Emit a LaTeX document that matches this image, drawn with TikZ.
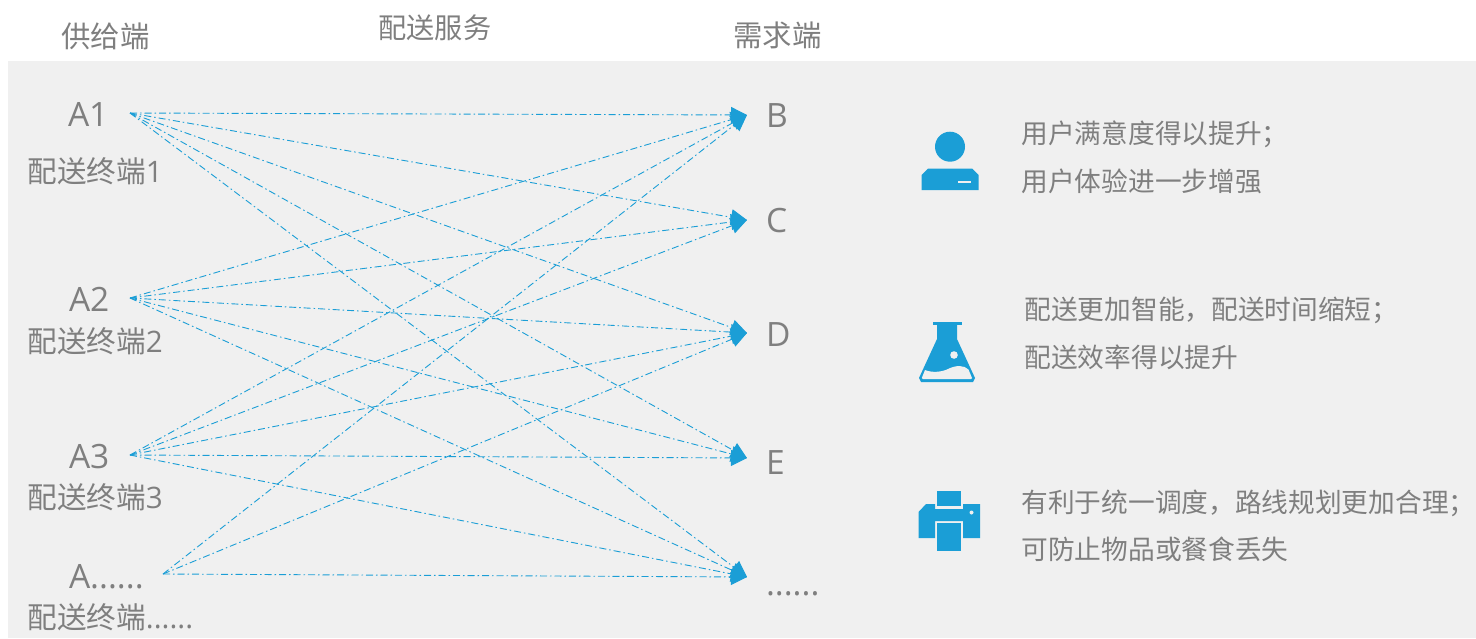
\documentclass[tikz,border=0pt]{standalone}
\usepackage{fontspec}
\setmainfont{Open Sans}
\newfontfamily\cjk{Noto Sans CJK SC}
\usetikzlibrary{arrows.meta}
\definecolor{bgc}{HTML}{F0F0F0}
\definecolor{txt}{HTML}{7F7F7F}
\definecolor{blu}{HTML}{1B9ED6}
\tikzset{
  base/.style={inner sep=0pt,outer sep=0pt,text=txt,anchor=base west},
  head/.style={base,font=\cjk\fontsize{29.4}{29.4}\selectfont},
  headb/.style={base,font=\cjk\fontsize{28.2}{28.2}\selectfont},
  sub/.style={base,font=\fontsize{29.6}{29.6}\selectfont},
  big/.style={base,font=\fontsize{33.5}{33.5}\selectfont},
  desc/.style={base,font=\cjk\fontsize{26.7}{26.7}\selectfont},
  link/.style={blu,line width=0.9pt,dash pattern=on 7pt off 3pt on 1.5pt off 3pt,
    -{Triangle[length=16pt,width=16pt]}},
  icon/.style={fill=blu,draw=none},
}
\begin{document}
\begin{tikzpicture}[x=1pt,y=-1pt]
\useasboundingbox (0,0) rectangle (1476,638);
\fill[bgc] (8,61) rectangle (1476,638);
\node[head] (h1) at (61.5,47) {供给端};
\node[headb] (h2) at (378.5,38) {配送服务};
\node[head] (h3) at (733.5,46) {需求端};
\node[big] (A1) at (68,126) {A1};
\node[big] (A2) at (69,311) {A2};
\node[big] (A3) at (69,468) {A3};
\node[big] (A4) at (69,588) {A......};
\node[sub] (s1) at (27.5,182) {{\cjk 配送终端}1};
\node[sub] (s2) at (27.5,352) {{\cjk 配送终端}2};
\node[sub] (s3) at (27.5,508) {{\cjk 配送终端}3};
\node[sub] (s4) at (27.5,628) {{\cjk 配送终端}......};
\node[big] (B) at (766,127) {B};
\node[big] (C) at (766,232) {C};
\node[big] (D) at (766,346) {D};
\node[big] (E) at (766,474) {E};
\node[big] (F) at (766,595) {......};
\coordinate (a1) at (130,113);
\coordinate (a2) at (130,298);
\coordinate (a3) at (130,455);
\coordinate (a4) at (163,574);
\coordinate (b) at (747,115);
\coordinate (c) at (747,220);
\coordinate (d) at (747,333);
\coordinate (e) at (747,458);
\coordinate (f) at (747,577);
\foreach \s/\t in {a1/b,a1/c,a1/d,a1/e,a1/f,a2/b,a2/c,a2/d,a2/e,a2/f,a3/b,a3/c,a3/d,a3/e,a3/f,a4/b,a4/d,a4/f}
  \draw[link] (\s) -- (\t);
% user icon
\fill[icon] (950,146.7) circle (15);
\fill[icon] (921.5,190) -- (921.5,175) -- (928,168.5) -- (972,168.5) -- (978.5,175) -- (978.5,190) -- cycle;
\fill[bgc] (958,180.5) rectangle (971,182.5);
% flask icon
\fill[icon] (932.5,322) rectangle (961.5,324.5);
\fill[icon] (937,324) -- (957,324) -- (957,339) -- (975,378) -- (973,382) -- (921,382) -- (919,378) -- (937,339) -- cycle;
\fill[bgc] (925,370) .. controls (932,373) and (942,372) .. (948,369) .. controls (956,365) and (964,365) .. (968.5,369.5) -- (972,378) -- (971,379) -- (923,379) -- (921.8,378) -- cycle;
\fill[bgc] (954,355) circle (3.8);
% printer icon
\fill[icon] (937,491) rectangle (961,506);
\fill[icon] (918.5,512) -- (926,504) -- (935,504) -- (935,509) -- (963,509) -- (963,504) -- (980,504) -- (980,538) -- (963,538) -- (963,521) -- (935,521) -- (935,538) -- (918.5,538) -- cycle;
\fill[icon] (937,523) rectangle (961,551);
\fill[bgc] (971.5,512.5) circle (2);
% texts
\node[desc] (t1) at (1021.5,143) {用户满意度得以提升；};
\node[desc] (t2) at (1021.5,191) {用户体验进一步增强};
\node[desc] (t3) at (1024.5,319) {配送更加智能，配送时间缩短；};
\node[desc] (t4) at (1024.5,367) {配送效率得以提升};
\node[desc] (t5) at (1021.5,512) {有利于统一调度，路线规划更加合理；};
\node[desc] (t6) at (1021.5,559) {可防止物品或餐食丢失};
\end{tikzpicture}
\end{document}
